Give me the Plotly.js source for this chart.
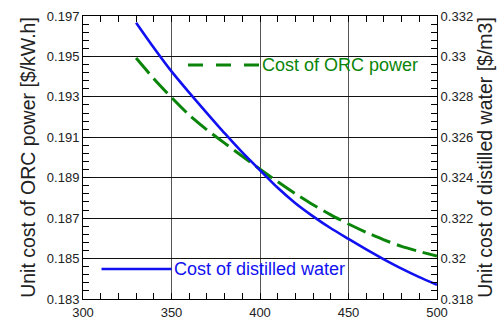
<!DOCTYPE html>
<html>
<head>
<meta charset="utf-8">
<script src="https://cdn.plot.ly/plotly-3.0.1.min.js"></script>
<style>
  html, body { margin: 0; padding: 0; background: #fff; }
  #chart { width: 497px; height: 320px; }
</style>
</head>
<body>
<div id="chart"></div>
<script>
// Data
const temperature = [330, 340, 350, 360, 370, 380, 390, 400, 410, 420, 430, 440, 450, 460, 470, 480, 490, 500];
const orcPowerCost = [0.19492, 0.19390, 0.19297, 0.19210, 0.19137, 0.19071, 0.19006, 0.18942, 0.18880, 0.18821, 0.18766, 0.18716, 0.18671, 0.18630, 0.18593, 0.18560, 0.18535, 0.18512];
const distilledWaterCost = [0.33167, 0.33043, 0.32926, 0.32821, 0.32720, 0.32620, 0.32525, 0.32437, 0.32350, 0.32274, 0.32209, 0.32150, 0.32097, 0.32045, 0.31996, 0.31950, 0.31908, 0.31870];
const seriesNames = ["Cost of ORC power", "Cost of distilled water"];
const leftAxisTitle = "Unit cost of ORC power [$/kW.h]";
const rightAxisTitle = "Unit cost of distilled water [$/m3]";

const GREEN = "#0a850a";
const BLUE = "#1010f0";
const FONT = "Liberation Sans, Arial, sans-serif";

const traces = [
  {
    x: temperature, y: orcPowerCost, name: seriesNames[0], yaxis: "y",
    type: "scatter", mode: "lines",
    line: { color: GREEN, width: 3, dash: "20px,7px", shape: "spline", smoothing: 0.6 },
    showlegend: false, hoverinfo: "skip"
  },
  {
    x: temperature, y: distilledWaterCost, name: seriesNames[1], yaxis: "y2",
    type: "scatter", mode: "lines",
    line: { color: BLUE, width: 2.6, shape: "spline", smoothing: 0.6 },
    showlegend: false, hoverinfo: "skip"
  }
];

const tickFont = { family: FONT, size: 13, color: "#222" };
const titleFont = { family: FONT, size: 19.5, color: "#222" };

const layout = {
  width: 497, height: 320,
  margin: { l: 83, r: 60, t: 16, b: 21, pad: 0 },
  paper_bgcolor: "#fff", plot_bgcolor: "#fff",
  font: { family: FONT, size: 13, color: "#222" },
  showlegend: false,
  xaxis: {
    range: [300, 500], tick0: 300, dtick: 50,
    ticks: "inside", ticklen: 6, tickcolor: "#000", tickwidth: 1,
    showline: true, linecolor: "#000", linewidth: 1, mirror: "allticks",
    showgrid: true, gridcolor: "#555", gridwidth: 1, zeroline: false,
    tickfont: tickFont, ticklabelstandoff: 1,
    minor: { dtick: 10, ticks: "inside", ticklen: 5, tickcolor: "#000", showgrid: false }
  },
  yaxis: {
    range: [0.183, 0.197], tick0: 0.183, dtick: 0.002,
    ticks: "inside", ticklen: 7, tickcolor: "#000", tickwidth: 1,
    showline: true, linecolor: "#000", linewidth: 1, mirror: "allticks",
    showgrid: true, gridcolor: "#111", gridwidth: 1, zeroline: false,
    tickfont: tickFont,
    minor: { tick0: 0.183, dtick: 0.0004, ticks: "inside", ticklen: 6, tickcolor: "#000", showgrid: false },
    title: { text: leftAxisTitle, font: titleFont, standoff: 6 }
  },
  yaxis2: {
    overlaying: "y", side: "right",
    range: [0.318, 0.332], tick0: 0.318, dtick: 0.002,
    ticks: "inside", ticklen: 7, tickcolor: "#000", tickwidth: 1,
    showline: true, linecolor: "#000", linewidth: 1,
    showgrid: false, zeroline: false,
    tickfont: tickFont,
    minor: { tick0: 0.318, dtick: 0.0004, ticks: "inside", ticklen: 6, tickcolor: "#000", showgrid: false },
    title: { text: rightAxisTitle, font: titleFont, standoff: 6 }
  },
  shapes: [
    // legend boxes (white, hide grid lines behind them)
    { type: "rect", xref: "paper", yref: "paper", x0: 0.2966, x1: 0.9435, y0: 0.7915, y1: 0.8657,
      fillcolor: "#fff", line: { width: 0 }, layer: "between" },
    { type: "rect", xref: "paper", yref: "paper", x0: 0.048, x1: 0.7486, y0: 0.0777, y1: 0.1449,
      fillcolor: "#fff", line: { width: 0 }, layer: "between" },
    // legend sample lines
    { type: "line", xref: "paper", yref: "paper", x0: 0.2966, x1: 0.4972, y0: 0.8269, y1: 0.8269,
      line: { color: GREEN, width: 3, dash: "15px,13px" }, layer: "above" },
    { type: "line", xref: "paper", yref: "paper", x0: 0.0523, x1: 0.25, y0: 0.106, y1: 0.106,
      line: { color: BLUE, width: 2.6 }, layer: "above" }
  ],
  annotations: [
    { text: seriesNames[0], xref: "paper", yref: "paper", x: 0.5, y: 0.8286,
      xanchor: "left", yanchor: "middle", showarrow: false,
      font: { family: FONT, size: 18, color: GREEN } },
    { text: seriesNames[1], xref: "paper", yref: "paper", x: 0.2515, y: 0.105,
      xanchor: "left", yanchor: "middle", showarrow: false,
      font: { family: FONT, size: 18, color: BLUE } }
  ]
};

Plotly.newPlot("chart", traces, layout, { displayModeBar: false, staticPlot: true });
</script>
</body>
</html>
